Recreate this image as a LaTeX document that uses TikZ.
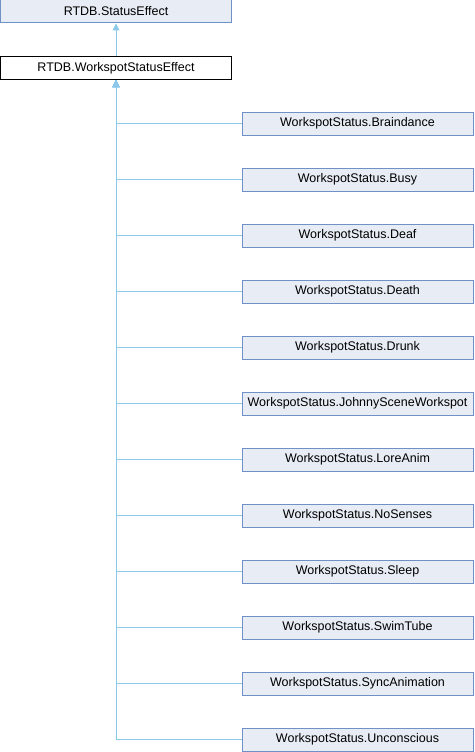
\documentclass[tikz,border=0pt]{standalone}
\usepackage{fontspec}
\setmainfont{Liberation Sans}
\usetikzlibrary{positioning,arrows.meta}
\definecolor{boxfill}{HTML}{E8ECF5}
\definecolor{boxline}{HTML}{7090C8}
\definecolor{edgeblue}{HTML}{8CC8EA}

\begin{document}
\begin{tikzpicture}[x=1pt,y=1pt,>={Triangle[length=7pt,width=7pt]},node distance=56pt,line width=1pt,
    class node/.style={draw=boxline,fill=boxfill,minimum width=231pt,minimum height=23pt,inner sep=0pt,font=\fontsize{12.5}{14}\selectfont},
    base node/.style={class node,draw=black,fill=white},
    inherit/.style={draw=edgeblue,->}]
    \useasboundingbox (0,0) rectangle (474,-752);
    \node[class node] (se) at (116,-11.5) {RTDB.StatusEffect};
    \node[base node] (wse) at (116,-68) {RTDB.WorkspotStatusEffect};
    \node[class node] (brd) at (357.5,-123.5) {WorkspotStatus.Braindance};
    \node[class node] (busy) [below of=brd] {WorkspotStatus.Busy};
    \node[class node] (deaf) [below of=busy] {WorkspotStatus.Deaf};
    \node[class node] (death) [below of=deaf] {WorkspotStatus.Death};
    \node[class node] (drunk) [below of=death] {WorkspotStatus.Drunk};
    \node[class node] (johnny) [below of=drunk] {WorkspotStatus.JohnnySceneWorkspot};
    \node[class node] (lore) [below of=johnny] {WorkspotStatus.LoreAnim};
    \node[class node] (nosenses) [below of=lore] {WorkspotStatus.NoSenses};
    \node[class node] (sleep) [below of=nosenses] {WorkspotStatus.Sleep};
    \node[class node] (swim) [below of=sleep] {WorkspotStatus.SwimTube};
    \node[class node] (sync) [below of=swim] {WorkspotStatus.SyncAnimation};
    \node[class node] (uncon) [below of=sync] {WorkspotStatus.Unconscious};

    \draw[inherit] (wse) -- (se);
    \draw[inherit] (brd.west) -| (wse.south);
    \draw[inherit] (busy.west) -| (wse.south);
    \draw[inherit] (deaf.west) -| (wse.south);
    \draw[inherit] (death.west) -| (wse.south);
    \draw[inherit] (drunk.west) -| (wse.south);
    \draw[inherit] (johnny.west) -| (wse.south);
    \draw[inherit] (lore.west) -| (wse.south);
    \draw[inherit] (nosenses.west) -| (wse.south);
    \draw[inherit] (sleep.west) -| (wse.south);
    \draw[inherit] (swim.west) -| (wse.south);
    \draw[inherit] (sync.west) -| (wse.south);
    \draw[inherit] (uncon.west) -| (wse.south);
\end{tikzpicture}
\end{document}
